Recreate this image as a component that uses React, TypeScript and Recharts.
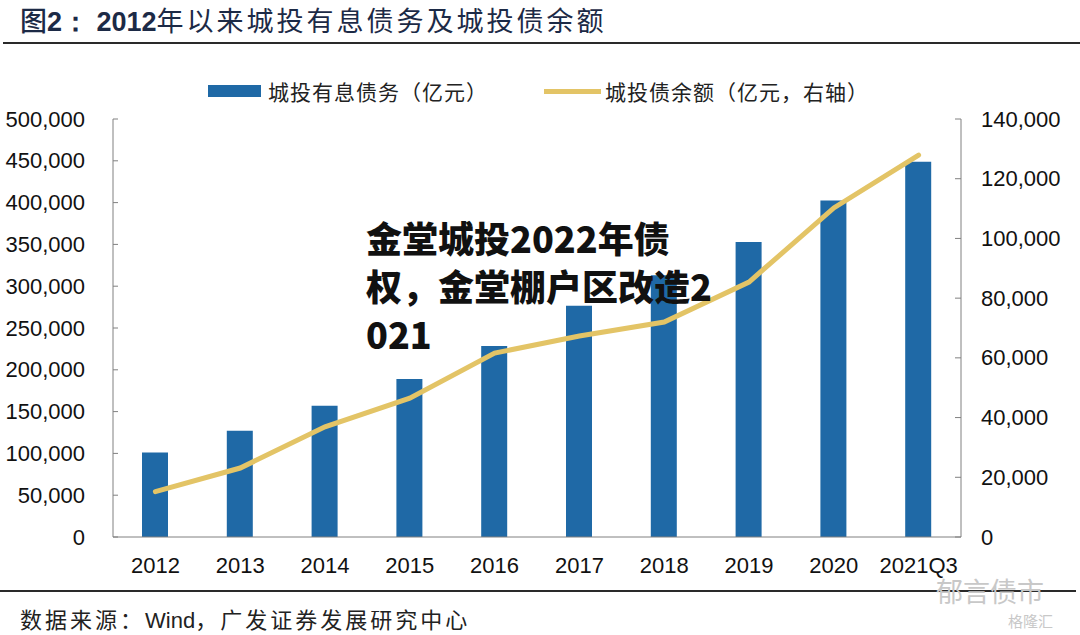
import React from 'react';
import {
  ComposedChart,
  Bar,
  Line,
  XAxis,
  YAxis,
} from 'recharts';

// 数据（亿元）
const categories = ['2012', '2013', '2014', '2015', '2016', '2017', '2018', '2019', '2020', '2021Q3'];
const debtValues = [101000, 127000, 157000, 189000, 228500, 276500, 313000, 353000, 402500, 449000];
const bondBalance = [15200, 23100, 36900, 46500, 61600, 67300, 72000, 85400, 110200, 127900];
const leftTicks = [0, 50000, 100000, 150000, 200000, 250000, 300000, 350000, 400000, 450000, 500000];
const rightTicks = [0, 20000, 40000, 60000, 80000, 100000, 120000, 140000];
const seriesNames = ['城投有息债务（亿元）', '城投债余额（亿元，右轴）'];

const BAR_COLOR = '#1f69a6';
const LINE_COLOR = '#e3c466';
const AXIS_COLOR = '#808080';
const NUM_FONT = '"Liberation Sans", Arial, sans-serif';
const CJK_FONT = '"Noto Sans CJK SC", "Noto Sans", sans-serif';

const data = categories.map((name, i) => ({
  name,
  debt: debtValues[i],
  bond: bondBalance[i],
}));

const fmt = (v: number) => v.toLocaleString('en-US');

// 左轴刻度：刻度线朝内
const LeftTick = (props: any) => {
  const { x, y, payload } = props;
  return (
    <g>
      <line x1={x} x2={x + 5} y1={y} y2={y} stroke={AXIS_COLOR} strokeWidth={1} />
      <text x={x - 28} y={y} textAnchor="end" dominantBaseline="central" fill="#111" fontSize={22} fontFamily={NUM_FONT}>
        {fmt(payload.value)}
      </text>
    </g>
  );
};

const RightTick = (props: any) => {
  const { x, y, payload } = props;
  return (
    <g>
      <line x1={x - 6} x2={x} y1={y} y2={y} stroke={AXIS_COLOR} strokeWidth={1} />
      <text x={x + 20} y={y} textAnchor="start" dominantBaseline="central" fill="#111" fontSize={22} fontFamily={NUM_FONT}>
        {fmt(payload.value)}
      </text>
    </g>
  );
};

const XTick = (props: any) => {
  const { x, y, payload } = props;
  return (
    <text x={x} y={y + 26} textAnchor="middle" dominantBaseline="central" fill="#111" fontSize={22} fontFamily={NUM_FONT}>
      {payload.value}
    </text>
  );
};

export default function App() {
  return (
    <div style={{ position: 'absolute', left: 0, top: 0, width: 1080, height: 635, background: '#fff', overflow: 'hidden' }}>
      {/* 标题 */}
      <div style={{ position: 'absolute', left: 20, top: 0, fontSize: 27, color: '#1c2a46', whiteSpace: 'nowrap', fontFamily: CJK_FONT }}>
        <span style={{ fontWeight: 500 }}>图</span>
        <span style={{ fontFamily: NUM_FONT, fontWeight: 700 }}>2：</span>
        <span style={{ fontFamily: NUM_FONT, fontWeight: 700 }}> 2012</span>
        <span style={{ letterSpacing: 3 }}>年以来城投有息债务及城投债余额</span>
      </div>
      <div style={{ position: 'absolute', left: 3, top: 42, width: 1077, height: 2, background: '#2a2a2a' }} />

      {/* 图例 */}
      <div style={{ position: 'absolute', left: 0, top: 76, width: 1080, height: 30, fontFamily: CJK_FONT, fontSize: 21, color: '#222' }}>
        <div style={{ position: 'absolute', left: 208, top: 9, width: 53, height: 12, background: BAR_COLOR }} />
        <div style={{ position: 'absolute', left: 268, top: 0, letterSpacing: 1, whiteSpace: 'nowrap' }}>
          {seriesNames[0]}
        </div>
        <div style={{ position: 'absolute', left: 544, top: 13, width: 57, height: 5, background: LINE_COLOR }} />
        <div style={{ position: 'absolute', left: 605, top: 0, letterSpacing: 1, whiteSpace: 'nowrap' }}>
          {seriesNames[1]}
        </div>
      </div>

      <ComposedChart
        width={1080}
        height={635}
        data={data}
        margin={{ top: 119, right: 0, bottom: 58, left: 0 }}
        style={{ position: 'absolute', left: 0, top: 0 }}
      >
        <XAxis
          dataKey="name"
          axisLine={{ stroke: AXIS_COLOR }}
          tickLine={false}
          tickSize={0}
          tick={<XTick />}
          height={40}
          interval={0}
        />
        <YAxis
          yAxisId="left"
          orientation="left"
          domain={[0, 500000]}
          ticks={leftTicks}
          width={113}
          axisLine={{ stroke: AXIS_COLOR }}
          tickLine={false}
          tickSize={0}
          tickMargin={0}
          tick={<LeftTick />}
          interval={0}
        />
        <YAxis
          yAxisId="right"
          orientation="right"
          domain={[0, 140000]}
          ticks={rightTicks}
          width={119}
          axisLine={{ stroke: AXIS_COLOR }}
          tickLine={false}
          tickSize={0}
          tickMargin={0}
          tick={<RightTick />}
          interval={0}
        />
        <Bar
          yAxisId="left"
          dataKey="debt"
          name={seriesNames[0]}
          fill={BAR_COLOR}
          barSize={26}
          isAnimationActive={false}
        />
        <Line
          yAxisId="right"
          dataKey="bond"
          name={seriesNames[1]}
          type="linear"
          stroke={LINE_COLOR}
          strokeWidth={5}
          strokeLinecap="round"
          dot={false}
          activeDot={false}
          isAnimationActive={false}
        />
      </ComposedChart>

      {/* 覆盖文字 */}
      <div
        style={{
          position: 'absolute',
          left: 366,
          top: 213,
          fontSize: 36,
          lineHeight: '48px',
          fontWeight: 900,
          color: '#111',
          fontFamily: CJK_FONT,
          whiteSpace: 'nowrap',
        }}
      >
        金堂城投2022年债
        <br />
        权，金堂棚户区改造2
        <br />
        021
      </div>

      {/* 底部 */}
      <div style={{ position: 'absolute', left: 0, top: 590, width: 1076, height: 2, background: '#2a2a2a' }} />
      <div style={{ position: 'absolute', left: 20, top: 602, fontSize: 22, color: '#222', fontFamily: CJK_FONT, letterSpacing: 3, whiteSpace: 'nowrap' }}>
        数据来源：<span style={{ fontFamily: NUM_FONT, letterSpacing: 0 }}>Wind</span>，广发证券发展研究中心
      </div>
      <div style={{ position: 'absolute', left: 936, top: 571, fontSize: 27, color: '#c8c8c8', fontFamily: CJK_FONT, whiteSpace: 'nowrap' }}>
        郁言债市
      </div>
      <div style={{ position: 'absolute', left: 1008, top: 610, fontSize: 15, color: '#c8c8c8', fontFamily: CJK_FONT, whiteSpace: 'nowrap' }}>
        格隆汇
      </div>
    </div>
  );
}
